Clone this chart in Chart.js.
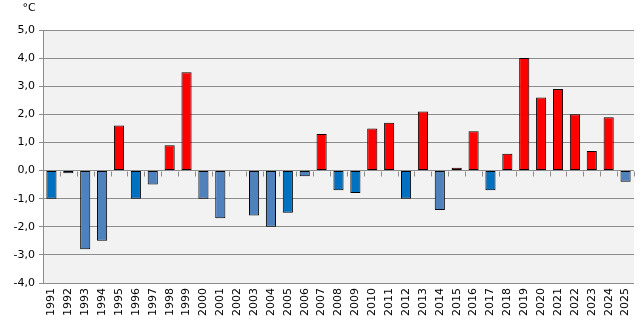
<!DOCTYPE html>
<html>
<head>
<meta charset="utf-8">
<script src="https://cdn.jsdelivr.net/npm/chart.js@4/dist/chart.umd.min.js"></script>
<style>
  html, body { margin: 0; padding: 0; background: #fff; }
  #myChart { display: block; }
</style>
</head>
<body>
<canvas id="myChart" width="641" height="323"></canvas>
<script>
const years = [
  '1991', '1992', '1993', '1994', '1995', '1996', '1997', '1998', '1999', '2000',
  '2001', '2002', '2003', '2004', '2005', '2006', '2007', '2008', '2009', '2010',
  '2011', '2012', '2013', '2014', '2015', '2016', '2017', '2018', '2019', '2020',
  '2021', '2022', '2023', '2024', '2025',
]
const anomalies = [
  -1.0, -0.1, -2.8, -2.5, 1.6, -1.0, -0.5, 0.9, 3.5, -1.0,
  -1.7, 0.0, -1.6, -2.0, -1.5, -0.2, 1.3, -0.7, -0.8, 1.5,
  1.7, -1.0, 2.1, -1.4, 0.1, 1.4, -0.7, 0.6, 4.0, 2.6,
  2.9, 2.0, 0.7, 1.9, -0.4,
]
// years whose cold bars are filled in the darker blue
const darkYears = ['1991', '1996', '2005', '2008', '2009', '2012', '2017']
const yTicks = [-4, -3, -2, -1, 0, 1, 2, 3, 4, 5]

const gridColor = '#8c8c8c'
const font = { family: 'DejaVu Sans', size: 11 }

function barColor(ctx) {
  const v = anomalies[ctx.dataIndex]
  if (v > 0) return '#ff0000'
  return darkYears.includes(years[ctx.dataIndex]) ? '#0070c0' : '#4f81bd'
}

// grey plot background, unit label and the small ticks on the zero line
const plotDecor = {
  id: 'plotDecor',
  beforeDraw(chart) {
    const { ctx, chartArea } = chart
    ctx.save()
    ctx.fillStyle = '#f2f2f2'
    ctx.fillRect(chartArea.left, chartArea.top, chartArea.right - chartArea.left, chartArea.bottom - chartArea.top)
    ctx.restore()
  },
  afterDraw(chart) {
    const { ctx, chartArea, scales } = chart
    const x = scales.x
    const zero = Math.round(scales.y.getPixelForValue(0)) + 0.5
    const step = (chartArea.right - chartArea.left) / years.length
    ctx.save()
    ctx.strokeStyle = gridColor
    ctx.lineWidth = 1
    ctx.beginPath()
    for (let i = 0; i <= years.length; i++) {
      const px = Math.round(x.left + i * step) + 0.5
      ctx.moveTo(px, zero)
      ctx.lineTo(px, zero + 5)
    }
    ctx.stroke()
    ctx.fillStyle = '#000'
    ctx.font = '11px "DejaVu Sans"'
    ctx.textAlign = 'center'
    ctx.textBaseline = 'top'
    ctx.fillText('°C', 29, 3)
    ctx.restore()
  },
}

const el = document.getElementById('myChart')

const chart = new Chart(el.getContext('2d'), {
  type: 'bar',
  data: {
    labels: years,
    datasets: [
      {
        data: anomalies,
        backgroundColor: barColor,
        borderColor: '#000',
        borderWidth: (ctx) => (anomalies[ctx.dataIndex] === 0 ? 0 : 1),
        borderSkipped: false,
        barPercentage: 0.6,
        categoryPercentage: 1,
      },
    ],
  },
  options: {
    responsive: false,
    animation: false,
    layout: { padding: { top: 30, right: 0, left: 0, bottom: 0 } },
    plugins: {
      legend: { display: false },
      tooltip: { enabled: false },
    },
    scales: {
      x: {
        grid: { display: false, drawTicks: false },
        border: { display: false },
        ticks: {
          color: '#000',
          font: font,
          minRotation: 90,
          maxRotation: 90,
          autoSkip: false,
          padding: 5,
        },
        afterFit(scale) {
          scale.height = 40
          scale.paddingRight = 7
        },
      },
      y: {
        min: -4,
        max: 5,
        afterBuildTicks(scale) {
          scale.ticks = yTicks.map((v) => ({ value: v }))
        },
        grid: {
          color: gridColor,
          lineWidth: 1,
          tickLength: 4,
          tickColor: gridColor,
        },
        border: { display: true, color: gridColor, width: 1 },
        ticks: {
          color: '#000',
          font: font,
          padding: 4,
          callback: (v) => v.toFixed(1).replace('.', ','),
        },
        afterFit(scale) {
          scale.width = 43
        },
      },
    },
  },
  plugins: [plotDecor],
})
</script>
</body>
</html>
